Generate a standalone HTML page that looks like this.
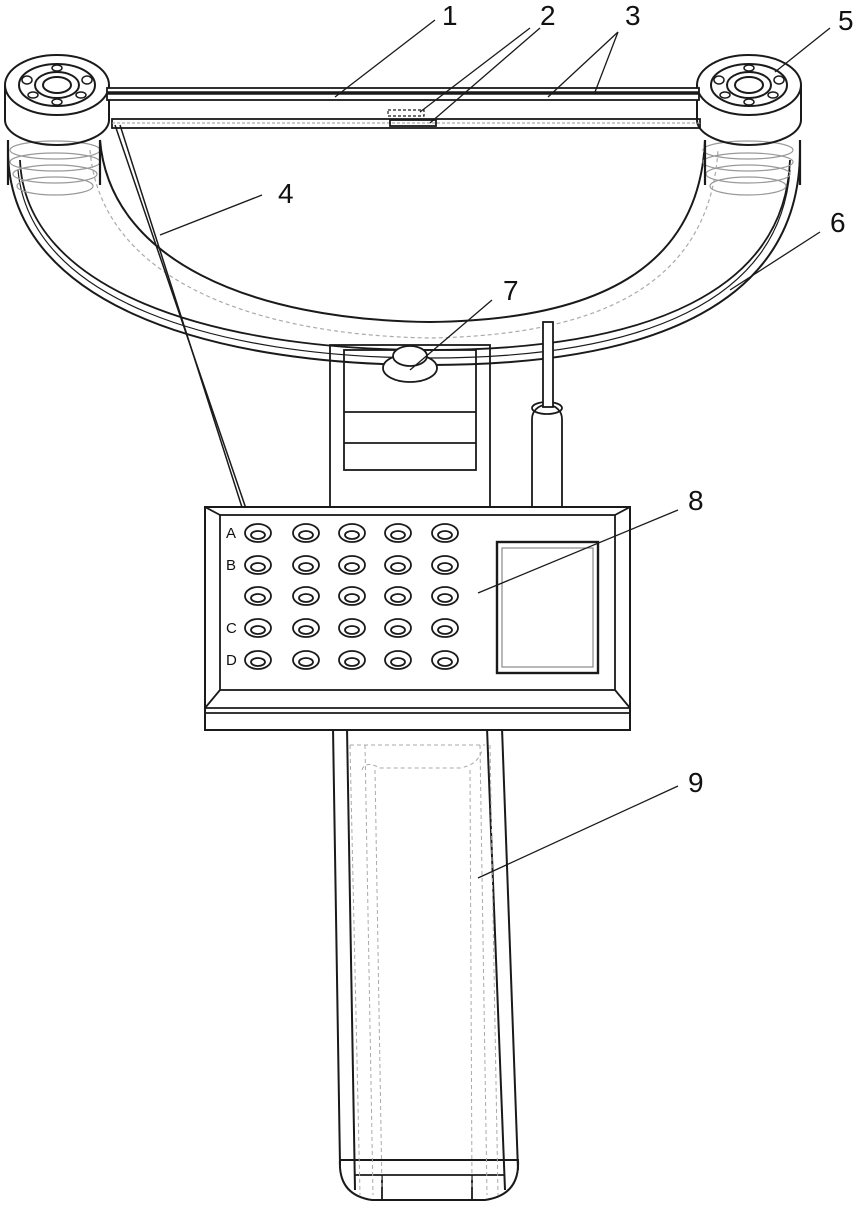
<!DOCTYPE html>
<html><head><meta charset="utf-8"><style>
html,body{margin:0;padding:0;background:#fff;}
svg{display:block}
text{font-family:"Liberation Sans",sans-serif;fill:#111}
</style></head><body>
<svg width="858" height="1208" viewBox="0 0 858 1208" xmlns="http://www.w3.org/2000/svg">
<g fill="none" stroke="#1a1a1a" stroke-width="1.8">
<!-- U arc -->
<path d="M8,150 C8,300 200,365 430,365 C660,365 800,300 800,150" stroke-width="2"/>
<path d="M20,160 C25,290 210,350 430,350"/>
<path d="M790,160 C785,290 650,350 430,350"/>
<path d="M100,140 C110,260 250,320 430,322 C610,320 700,260 705,140" stroke-width="2"/>
<path d="M18,170 C30,300 215,358 430,358 C645,358 780,300 790,170" stroke-width="1.2"/>
<path d="M90,150 C100,275 245,335 430,338 C615,335 710,275 718,150" stroke="#aaa" stroke-width="1.2" stroke-dasharray="4,3"/>
<!-- spring stacks -->
<g stroke="#999" stroke-width="1.2">
<ellipse cx="55" cy="150" rx="45" ry="9"/><ellipse cx="55" cy="162" rx="45" ry="9"/><ellipse cx="55" cy="174" rx="42" ry="9"/><ellipse cx="55" cy="186" rx="38" ry="9"/>
<ellipse cx="748" cy="150" rx="45" ry="9"/><ellipse cx="748" cy="162" rx="45" ry="9"/><ellipse cx="748" cy="174" rx="42" ry="9"/><ellipse cx="748" cy="186" rx="38" ry="9"/>
</g>
<path d="M8,140 L8,185 M100,140 L100,185 M705,140 L705,185 M800,140 L800,185" stroke-width="2.2"/>
<!-- bearings -->
<g stroke-width="2">
<path d="M5,85 L5,120 A52,25 0 0 0 109,120 L109,85"/>
<ellipse cx="57" cy="85" rx="52" ry="30" fill="#fff"/>
<ellipse cx="57" cy="85" rx="38" ry="21"/>
<ellipse cx="57" cy="85" rx="22" ry="13"/>
<ellipse cx="57" cy="85" rx="14" ry="8"/>
<path d="M697,85 L697,120 A52,25 0 0 0 801,120 L801,85"/>
<ellipse cx="749" cy="85" rx="52" ry="30" fill="#fff"/>
<ellipse cx="749" cy="85" rx="38" ry="21"/>
<ellipse cx="749" cy="85" rx="22" ry="13"/>
<ellipse cx="749" cy="85" rx="14" ry="8"/>
</g>
<g stroke-width="1.5">
<ellipse cx="27" cy="80" rx="5" ry="4"/><ellipse cx="87" cy="80" rx="5" ry="4"/><ellipse cx="57" cy="68" rx="5" ry="3"/><ellipse cx="57" cy="102" rx="5" ry="3"/><ellipse cx="33" cy="95" rx="5" ry="3"/><ellipse cx="81" cy="95" rx="5" ry="3"/>
<ellipse cx="719" cy="80" rx="5" ry="4"/><ellipse cx="779" cy="80" rx="5" ry="4"/><ellipse cx="749" cy="68" rx="5" ry="3"/><ellipse cx="749" cy="102" rx="5" ry="3"/><ellipse cx="725" cy="95" rx="5" ry="3"/><ellipse cx="773" cy="95" rx="5" ry="3"/>
</g>
<!-- top bars -->
<rect x="107" y="88" width="592" height="12" fill="#fff"/>
<line x1="107" y1="93" x2="699" y2="93" stroke-width="3.5"/>
<rect x="112" y="119" width="588" height="9"/>
<line x1="112" y1="123" x2="700" y2="123" stroke="#999" stroke-width="1" stroke-dasharray="3,2"/>
<rect x="388" y="110" width="36" height="6" stroke-width="1.2" stroke-dasharray="3,2"/>
<rect x="390" y="120" width="46" height="6"/>
<!-- wires 4 -->
<line x1="115" y1="125" x2="255" y2="535" stroke-width="1.5"/>
<line x1="120" y1="125" x2="262" y2="570" stroke-width="1.5"/>
<!-- column -->
<rect x="330" y="345" width="160" height="165"/>
<rect x="344" y="350" width="132" height="120"/>
<line x1="344" y1="412" x2="476" y2="412"/><line x1="344" y1="443" x2="476" y2="443"/>
<!-- knob 7 -->
<ellipse cx="410" cy="368" rx="27" ry="14" fill="#fff"/>
<ellipse cx="410" cy="356" rx="17" ry="10" fill="#fff"/>
<!-- pen -->
<rect x="532" y="405" width="30" height="130" rx="14" fill="#fff"/>
<ellipse cx="547" cy="408" rx="15" ry="6"/>
<rect x="543" y="322" width="10" height="85" fill="#fff"/>
<!-- handle -->
<path d="M333,728 L340,1165" stroke-width="2"/>
<path d="M347,728 L355,1190" stroke-width="2"/>
<path d="M487,728 L505,1190" stroke-width="2"/>
<path d="M502,728 L518,1170" stroke-width="2"/>
<path d="M340,1160 Q338,1195 372,1200 L485,1200 Q520,1195 518,1160 Z" fill="none" stroke-width="2"/>
<line x1="340" y1="1160" x2="518" y2="1160"/>
<line x1="355" y1="1175" x2="505" y2="1175"/>
<line x1="382" y1="1175" x2="382" y2="1200"/><line x1="472" y1="1175" x2="472" y2="1200"/>
<g stroke="#aaa" stroke-width="1" stroke-dasharray="4,3">
<path d="M350,745 L360,1195"/><path d="M365,745 L373,1195"/><path d="M375,770 L382,1190"/>
<path d="M470,770 L472,1190"/><path d="M480,745 L487,1195"/><path d="M490,745 L498,1195"/>
<path d="M350,745 L485,745"/><path d="M362,770 Q365,760 380,768 L460,768 Q478,765 482,750"/>
</g>
<!-- panel -->
<path d="M205,507 L630,507 L630,730 L205,730 Z" fill="#fff" stroke-width="2"/>
<line x1="205" y1="708" x2="630" y2="708"/>
<line x1="205" y1="713" x2="630" y2="713"/>
<rect x="220" y="515" width="395" height="175"/>
<line x1="205" y1="507" x2="220" y2="515"/><line x1="630" y1="507" x2="615" y2="515"/>
<line x1="205" y1="708" x2="220" y2="690"/><line x1="630" y1="708" x2="615" y2="690"/>
<rect x="497" y="542" width="101" height="131" stroke-width="2.4"/>
<rect x="502" y="548" width="91" height="119" stroke="#888" stroke-width="1.2"/>
<g id="holes">
<g stroke-width="1.8">
<ellipse cx="258" cy="533" rx="13" ry="9"/><ellipse cx="258" cy="535" rx="7" ry="4"/>
<ellipse cx="306" cy="533" rx="13" ry="9"/><ellipse cx="306" cy="535" rx="7" ry="4"/>
<ellipse cx="352" cy="533" rx="13" ry="9"/><ellipse cx="352" cy="535" rx="7" ry="4"/>
<ellipse cx="398" cy="533" rx="13" ry="9"/><ellipse cx="398" cy="535" rx="7" ry="4"/>
<ellipse cx="445" cy="533" rx="13" ry="9"/><ellipse cx="445" cy="535" rx="7" ry="4"/>
</g>
</g>
<use href="#holes" y="32"/>
<use href="#holes" y="63"/>
<use href="#holes" y="95"/>
<use href="#holes" y="127"/>
<!-- leaders -->
<g stroke-width="1.3">
<line x1="335" y1="97" x2="435" y2="20"/>
<line x1="420" y1="112" x2="530" y2="28"/><line x1="430" y1="123" x2="540" y2="28"/>
<line x1="548" y1="97" x2="618" y2="32"/><line x1="595" y1="92" x2="618" y2="32"/>
<line x1="775" y1="72" x2="830" y2="28"/>
<line x1="160" y1="235" x2="262" y2="195"/>
<line x1="730" y1="290" x2="820" y2="232"/>
<line x1="410" y1="370" x2="492" y2="300"/>
<line x1="478" y1="593" x2="678" y2="510"/>
<line x1="478" y1="878" x2="678" y2="786"/>
</g>
</g>
<g font-size="28">
<text x="442" y="25">1</text><text x="540" y="25">2</text><text x="625" y="25">3</text>
<text x="838" y="30">5</text><text x="278" y="203">4</text><text x="830" y="232">6</text>
<text x="503" y="300">7</text><text x="688" y="510">8</text><text x="688" y="792">9</text>
</g>
<g font-size="15">
<text x="226" y="538">A</text><text x="226" y="570">B</text><text x="226" y="633">C</text><text x="226" y="665">D</text>
</g>
</svg>
</body></html>
